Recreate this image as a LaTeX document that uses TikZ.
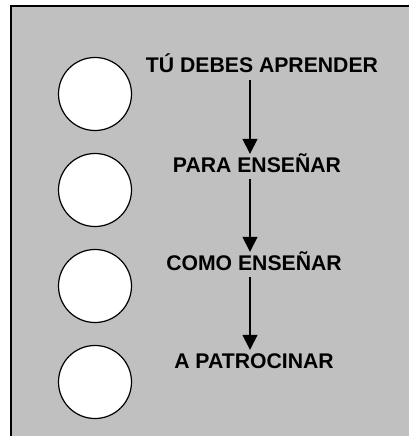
\documentclass[tikz,border=0pt]{standalone}
\usepackage{fontspec}
\setmainfont{Liberation Sans}
\usepackage{xcolor}
\usetikzlibrary{arrows.meta, positioning}
\definecolor{panelgray}{RGB}{192, 192, 192}

\begin{document}
\begin{tikzpicture}[x=1pt, y=-1pt,
    lbl/.style={font=\fontsize{21.2}{25}\selectfont\bfseries, inner sep=0pt, text height=14pt, text depth=0pt, anchor=base},
    flow/.style={line width=1.6pt, -{Triangle[length=15pt, width=15pt]}, shorten <=7pt, shorten >=4pt}]
    \useasboundingbox (0,0) rectangle (409,436);
    \fill[panelgray, draw=black, line width=2pt] (11,6) rectangle (420,450);
    \foreach \y/\n in {94/1, 190/2, 286/3, 382/4}{
      \node[circle, draw, fill=white, line width=1.2pt, minimum size=73pt, inner sep=0pt] (c\n) at (95,\y) {};
    }
    \node[lbl] (t1) at (262,73) {TÚ DEBES APRENDER};
    \node[lbl] (t2) at (257,172) {PARA ENSEÑAR};
    \node[lbl] (t3) at (254,270) {COMO ENSEÑAR};
    \node[lbl] (t4) at (254,368) {A PATROCINAR};
    \coordinate (spine) at (250,0);
    \draw[flow] (t1.south -| spine) -- (t2.north -| spine);
    \draw[flow] (t2.south -| spine) -- (t3.north -| spine);
    \draw[flow] (t3.south -| spine) -- (t4.north -| spine);
  \end{tikzpicture}
\end{document}
